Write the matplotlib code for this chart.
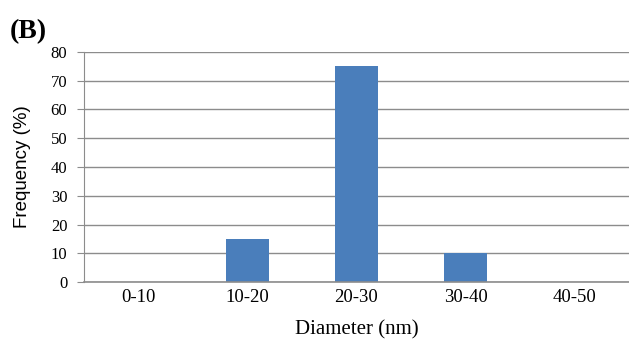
import matplotlib
matplotlib.use('Agg')
import matplotlib.pyplot as plt

categories = ['0-10', '10-20', '20-30', '30-40', '40-50']
frequency = [0, 15, 75, 10, 0]
y_ticks = [0, 10, 20, 30, 40, 50, 60, 70, 80]

fig = plt.figure(figsize=(6.29, 3.44), dpi=100)
ax = fig.add_axes([0.1335, 0.180, 0.8665, 0.669])

x = range(len(categories))
ax.bar(x, frequency, width=0.4, color='#4a7ebb', zorder=3)

ax.set_xlim(-0.5, len(categories) - 0.5)
ax.set_ylim(0, 80)
ax.set_yticks(y_ticks)
ax.set_xticks(list(x))
ax.set_xticklabels(categories, fontfamily='Liberation Serif', fontsize=13.5)
for lbl in ax.get_yticklabels():
    lbl.set_fontfamily('Liberation Serif')
    lbl.set_fontsize(12)

ax.grid(axis='y', color='#8c8c8c', linewidth=1.0, zorder=0)
for side in ['top', 'right', 'bottom']:
    ax.spines[side].set_visible(False)
ax.spines['left'].set_color('#8c8c8c')
ax.axhline(0, color='#8c8c8c', linewidth=1.2, zorder=4, clip_on=False)
ax.tick_params(axis='y', length=5, color='#8c8c8c', pad=7)
ax.tick_params(axis='x', length=0, pad=5)

ax.set_xlabel('Diameter (nm)', fontfamily='Liberation Serif', fontsize=15, labelpad=10)
ax.set_ylabel('Frequency (%)', fontfamily='Liberation Sans', fontsize=13.5, labelpad=14)

fig.text(0.016, 0.945, '(B)', fontfamily='Liberation Serif', fontweight='bold',
         fontsize=20, va='top', ha='left')

fig.savefig('out.png', dpi=100)
